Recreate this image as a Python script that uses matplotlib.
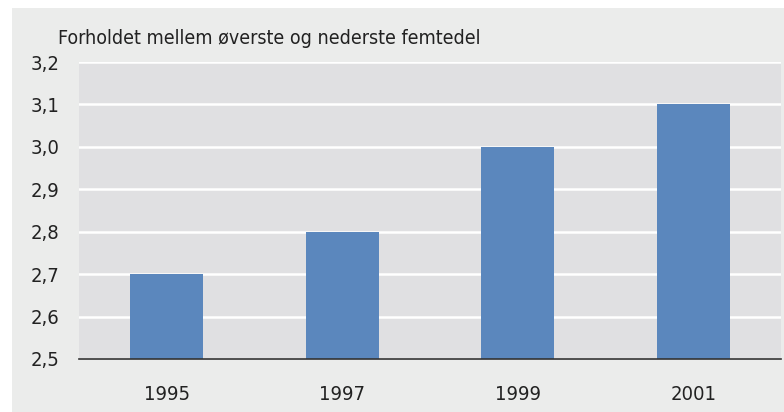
import matplotlib.pyplot as plt
from matplotlib.patches import Rectangle

# data
years = ["1995", "1997", "1999", "2001"]
ratio = [2.7, 2.8, 3.0, 3.1]
yticks = [2.5, 2.6, 2.7, 2.8, 2.9, 3.0, 3.1, 3.2]

plt.rcParams["font.family"] = "DejaVu Sans"
plt.rcParams["font.stretch"] = "condensed"

fig = plt.figure(figsize=(7.84, 4.12), dpi=100)
fig.patch.set_facecolor("white")
# light grey panel behind everything
fig.patches.append(Rectangle((12/784, 0), 1, 1 - 8/412, transform=fig.transFigure,
                             facecolor="#ebeceb", edgecolor="none", zorder=-5))

ax = fig.add_axes([79/784, 1 - 359/412, 702/784, (359 - 62)/412])
ax.set_facecolor("#e0e0e2")
ax.bar(range(len(years)), ratio, width=0.415, color="#5b87bd", zorder=3)

ax.set_xlim(-0.5, len(years) - 0.5)
ax.set_ylim(2.5, 3.2)
ax.set_yticks(yticks)
ax.set_yticklabels([f"{v:.1f}".replace(".", ",") for v in yticks])
ax.set_xticks(range(len(years)))
ax.set_xticklabels(years)
ax.grid(axis="y", color="white", lw=1.8, zorder=1)
ax.set_axisbelow(True)

for s in ["top", "right", "left"]:
    ax.spines[s].set_visible(False)
ax.spines["bottom"].set_color("#333333")
ax.spines["bottom"].set_linewidth(1.2)
ax.spines["bottom"].set_zorder(4)
ax.tick_params(axis="both", length=0, labelsize=14.5, colors="#222222")
ax.tick_params(axis="y", pad=14)
ax.tick_params(axis="x", pad=19)

fig.text(58/784, 1 - 38/412, "Forholdet mellem øverste og nederste femtedel",
         fontsize=14, color="#222222", ha="left", va="center")

plt.savefig("out.png", dpi=100, facecolor=fig.get_facecolor())
